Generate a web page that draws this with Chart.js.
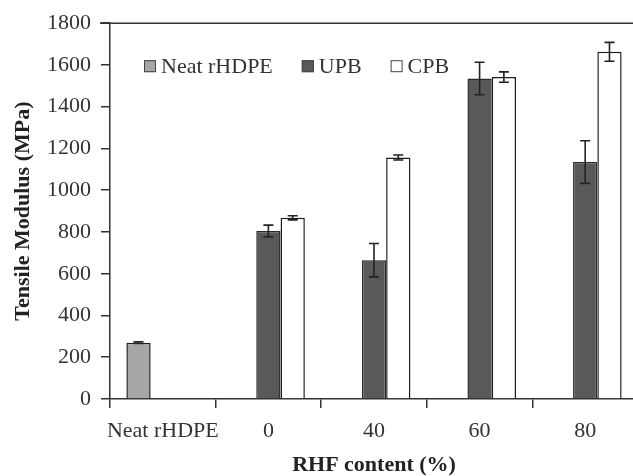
<!DOCTYPE html>
<html>
<head>
<meta charset="utf-8">
<script src="https://cdn.jsdelivr.net/npm/chart.js@4"></script>
<style>
  html, body { margin: 0; padding: 0; background: #fff; overflow: hidden; }
  #wrap { position: relative; width: 638px; height: 476px; }
</style>
</head>
<body>
<div id="wrap"><canvas id="modulusChart"></canvas></div>
<script>
// values (MPa)
const categories = ["Neat rHDPE", "0", "40", "60", "80"];
const neatValues = [270, null, null, null, null];
const neatErrors = [4, null, null, null, null];
const upbValues = [null, 805, 665, 1535, 1135];
const upbErrors = [null, 28, 80, 78, 102];
const cpbValues = [null, 868, 1157, 1542, 1663];
const cpbErrors = [null, 10, 12, 25, 45];
const yTicks = [0, 200, 400, 600, 800, 1000, 1200, 1400, 1600, 1800];

const errorSets = [neatErrors, upbErrors, cpbErrors];
const serif = "'Liberation Serif', 'Times New Roman', serif";

// error bars on top of each bar
const errorBarPlugin = {
  id: "errorBars",
  afterDatasetsDraw(chart) {
    const ctx = chart.ctx;
    const yScale = chart.scales.y;
    ctx.save();
    ctx.strokeStyle = "#222";
    ctx.lineWidth = 1.6;
    chart.data.datasets.forEach(function (ds, i) {
      const meta = chart.getDatasetMeta(i);
      meta.data.forEach(function (bar, j) {
        const v = ds.data[j];
        const e = errorSets[i][j];
        if (v == null || e == null) return;
        const top = yScale.getPixelForValue(v + e);
        const bot = yScale.getPixelForValue(v - e);
        const x = bar.x;
        ctx.beginPath();
        ctx.moveTo(x, top); ctx.lineTo(x, bot);
        ctx.moveTo(x - 5, top); ctx.lineTo(x + 5, top);
        ctx.moveTo(x - 5, bot); ctx.lineTo(x + 5, bot);
        ctx.stroke();
      });
    });
    ctx.restore();
  }
};

// legend drawn inside the plot area, plus the top frame line
const innerLegendPlugin = {
  id: "innerLegend",
  afterDraw(chart) {
    const ctx = chart.ctx;
    const area = chart.chartArea;
    ctx.save();
    ctx.strokeStyle = "#333";
    ctx.lineWidth = 1.5;
    ctx.beginPath();
    ctx.moveTo(area.left - 10, area.top);
    ctx.lineTo(area.right, area.top);
    ctx.stroke();

    ctx.font = "22px " + serif;
    ctx.textBaseline = "middle";
    let x = area.left + 34;
    const y = area.top + 43;
    chart.data.datasets.forEach(function (ds) {
      ctx.fillStyle = ds.backgroundColor;
      ctx.fillRect(x, y - 6, 12, 12);
      ctx.lineWidth = 1;
      ctx.strokeStyle = "#444";
      ctx.strokeRect(x + 0.5, y - 5.5, 11, 11);
      ctx.fillStyle = "#333";
      ctx.fillText(ds.label, x + 17, y + 1);
      x += 17 + ctx.measureText(ds.label).width + 29;
    });
    ctx.restore();
  }
};

const ctx = document.getElementById("modulusChart").getContext("2d");
new Chart(ctx, {
  type: "bar",
  data: {
    labels: categories,
    datasets: [
      { label: "Neat rHDPE", data: neatValues, backgroundColor: "#a6a6a6", borderColor: "#1e1e1e", borderWidth: 1.5 },
      { label: "UPB", data: upbValues, backgroundColor: "#595959", borderColor: "#2a2a2a", borderWidth: 1.5 },
      { label: "CPB", data: cpbValues, backgroundColor: "#ffffff", borderColor: "#1e1e1e", borderWidth: 1.5 }
    ]
  },
  options: {
    responsive: true,
    maintainAspectRatio: false,
    animation: false,
    layout: { padding: { left: 0, right: 0, top: 22, bottom: 0 } },
    datasets: { bar: { categoryPercentage: 0.69, barPercentage: 1.0 } },
    plugins: {
      legend: { display: false },
      tooltip: { enabled: false }
    },
    scales: {
      x: {
        grid: { offset: true, drawOnChartArea: false, drawTicks: true, tickLength: 9, color: "#333", lineWidth: 1.5 },
        border: { display: true, color: "#333", width: 1.5 },
        ticks: { color: "#333", font: { family: serif, size: 22 }, padding: 10, maxRotation: 0, autoSkip: false },
        title: {
          display: true,
          text: "RHF content (%)",
          color: "#222",
          font: { family: serif, size: 22, weight: "bold", lineHeight: 1.0 },
          padding: { top: 6, bottom: 0 }
        },
        afterFit: function (scale) { scale.height = 77; }
      },
      y: {
        min: 0,
        max: 1800,
        afterBuildTicks: function (scale) { scale.ticks = yTicks.map(v => ({ value: v })); },
        grid: { drawOnChartArea: false, drawTicks: true, tickLength: 9, color: "#333", lineWidth: 1.5 },
        border: { display: true, color: "#333", width: 1.5 },
        ticks: {
          color: "#333",
          font: { family: serif, size: 22 },
          padding: 10,
          callback: function (value) { return String(value); }
        },
        title: {
          display: true,
          text: "Tensile Modulus (MPa)",
          color: "#222",
          font: { family: serif, size: 22, weight: "bold", lineHeight: 1.0 },
          padding: { top: 12, bottom: 0 }
        },
        afterFit: function (scale) { scale.width = 110; }
      }
    }
  },
  plugins: [errorBarPlugin, innerLegendPlugin]
});
</script>
</body>
</html>
